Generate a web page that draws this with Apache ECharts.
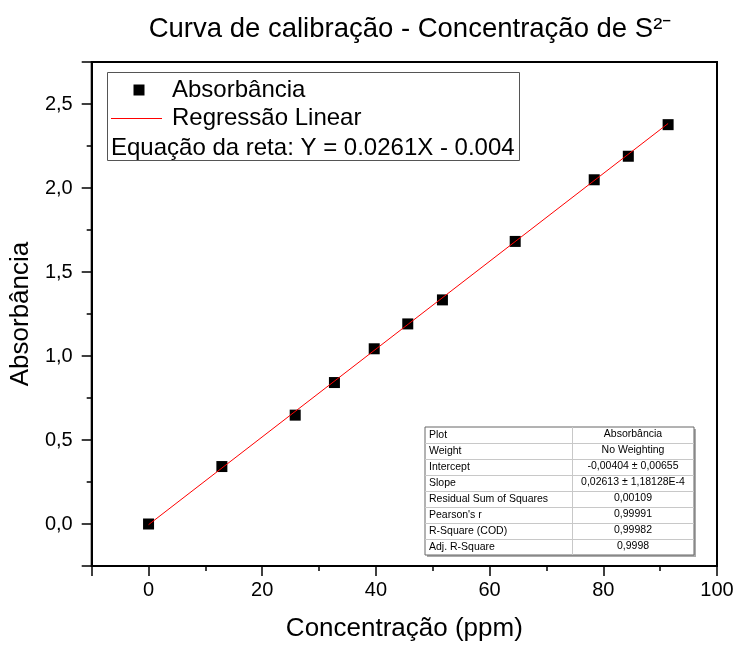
<!DOCTYPE html>
<html><head><meta charset="utf-8">
<script src="https://cdn.jsdelivr.net/npm/echarts@6/dist/echarts.min.js"></script>
<style>html,body{margin:0;padding:0;background:#fff}#c{width:738px;height:647px}</style>
</head><body><div id="c"></div>
<script>
// ---- data ----
const concentration = [0, 12.9, 25.8, 32.7, 39.7, 45.6, 51.7, 64.5, 78.4, 84.4, 91.4];
const absorbance = [0.0, 0.342, 0.648, 0.842, 1.043, 1.191, 1.334, 1.682, 2.049, 2.189, 2.377];
const fitX = [0, 91.4];
const fitY = [-0.004, 2.384];
const xTicks = [0, 20, 40, 60, 80, 100];
const yTicks = [0, 0.5, 1, 1.5, 2, 2.5];
const titleText = 'Curva de calibração - Concentração de S²⁻';
const xName = 'Concentração (ppm)';
const yName = 'Absorbância';
const legendScatter = 'Absorbância';
const legendLine = 'Regressão Linear';
const equationText = 'Equação da reta: Y = 0.0261X - 0.004';
const tableLabels = ['Plot', 'Weight', 'Intercept', 'Slope', 'Residual Sum of Squares', "Pearson's r", 'R-Square (COD)', 'Adj. R-Square'];
const tableValues = ['Absorbância', 'No Weighting', '-0,00404 ± 0,00655', '0,02613 ± 1,18128E-4', '0,00109', '0,99991', '0,99982', '0,9998'];

const FONT = '"Liberation Sans", Arial, Helvetica, sans-serif';
const chart = echarts.init(document.getElementById('c'), null, {renderer: 'canvas'});

const scatterData = concentration.map((x, i) => [x, absorbance[i]]);
const fitData = fitX.map((x, i) => [x, fitY[i]]);

// legend box and statistics table as graphic elements
const graphics = [];
// legend
graphics.push({type: 'rect', shape: {x: 107.5, y: 72.5, width: 412, height: 88}, style: {fill: '#fff', stroke: '#555', lineWidth: 1}, z: 100});
graphics.push({type: 'rect', shape: {x: 133.5, y: 84.5, width: 11, height: 11}, style: {fill: '#000'}, z: 101});
graphics.push({type: 'text', x: 172, y: 90, style: {text: legendScatter, fontSize: 24, fontFamily: FONT, fill: '#000', verticalAlign: 'middle', align: 'left'}, z: 101});
graphics.push({type: 'line', shape: {x1: 111, y1: 118.5, x2: 162, y2: 118.5}, style: {stroke: '#ff0000', lineWidth: 1}, z: 101});
graphics.push({type: 'text', x: 172, y: 118, style: {text: legendLine, fontSize: 24, fontFamily: FONT, fill: '#000', verticalAlign: 'middle', align: 'left'}, z: 101});
graphics.push({type: 'text', x: 111, y: 148, style: {text: equationText, fontSize: 24, fontFamily: FONT, fill: '#000', verticalAlign: 'middle', align: 'left'}, z: 101});

// table
const tL = 425, tR = 694, tD = 572, tT = 427, rowH = 16;
const tB = tT + rowH * tableLabels.length;
graphics.push({type: 'rect', shape: {x: tL + 2, y: tT + 2, width: tR - tL, height: tB - tT}, style: {fill: '#aaa'}, z: 100});
graphics.push({type: 'rect', shape: {x: tL, y: tT, width: tR - tL, height: tB - tT}, style: {fill: '#fff', stroke: '#666', lineWidth: 1}, z: 101});
for (let i = 1; i < tableLabels.length; i++) {
  graphics.push({type: 'line', shape: {x1: tL, y1: tT + i * rowH + 0.5, x2: tR, y2: tT + i * rowH + 0.5}, style: {stroke: '#c8c8c8', lineWidth: 1}, z: 102});
}
graphics.push({type: 'line', shape: {x1: tD + 0.5, y1: tT, x2: tD + 0.5, y2: tB}, style: {stroke: '#c8c8c8', lineWidth: 1}, z: 102});
tableLabels.forEach((lab, i) => {
  graphics.push({type: 'text', x: tL + 4, y: tT + i * rowH + rowH / 2 + 0.5, style: {text: lab, fontSize: 10.5, fontFamily: FONT, fill: '#000', verticalAlign: 'middle', align: 'left'}, z: 103});
  graphics.push({type: 'text', x: (tD + tR) / 2, y: tT + i * rowH + rowH / 2 - 1, style: {text: tableValues[i], fontSize: 10.5, fontFamily: FONT, fill: '#000', verticalAlign: 'middle', align: 'center'}, z: 103});
});

const option = {
  backgroundColor: '#fff',
  animation: false,
  title: {
    text: titleText,
    left: 405, top: 10, textAlign: 'center',
    textStyle: {fontFamily: FONT, fontSize: 27.5, fontWeight: 'normal', color: '#000'}
  },
  grid: {left: 88, right: 21, top: 62, bottom: 78, show: true, borderColor: '#000', borderWidth: 2, backgroundColor: 'transparent'},
  xAxis: [{
    type: 'value', min: -10, max: 100, splitNumber: 5, position: 'bottom',
    name: xName, nameLocation: 'middle', nameGap: 50,
    nameTextStyle: {fontFamily: FONT, fontSize: 26, color: '#000'},
    axisLine: {show: true, onZero: false, lineStyle: {color: '#000', width: 2}},
    axisTick: {show: true, inside: false, length: 10, lineStyle: {color: '#000', width: 1.5}},
    axisLabel: {margin: 14, fontFamily: FONT, fontSize: 20, color: '#000',
      formatter: v => xTicks.indexOf(v) >= 0 ? String(v) : ''},
    splitLine: {show: false}
  }, {
    type: 'value', min: -10, max: 100, interval: 10, position: 'bottom', offset: 0,
    axisLine: {show: false, onZero: false},
    axisTick: {show: true, inside: false, length: 5, lineStyle: {color: '#000', width: 1.5}},
    axisLabel: {show: false},
    splitLine: {show: false}
  }],
  yAxis: [{
    type: 'value', min: -0.25, max: 2.75, splitNumber: 6, position: 'left',
    name: yName, nameLocation: 'middle', nameGap: 47,
    nameTextStyle: {fontFamily: FONT, fontSize: 26, color: '#000'},
    axisLine: {show: true, onZero: false, lineStyle: {color: '#000', width: 2}},
    axisTick: {show: true, inside: false, length: 10, lineStyle: {color: '#000', width: 1.5}},
    axisLabel: {margin: 19, fontFamily: FONT, fontSize: 20, color: '#000',
      formatter: v => {
        const k = yTicks.findIndex(t => Math.abs(t - v) < 1e-9);
        return k >= 0 ? yTicks[k].toFixed(1).replace('.', ',') : '';
      }},
    splitLine: {show: false}
  }, {
    type: 'value', min: -0.25, max: 2.75, interval: 0.25, position: 'left', offset: 0,
    axisLine: {show: false, onZero: false},
    axisTick: {show: true, inside: false, length: 5, lineStyle: {color: '#000', width: 1.5}},
    axisLabel: {show: false},
    splitLine: {show: false}
  }],
  series: [{
    name: legendScatter, type: 'scatter', xAxisIndex: 0, yAxisIndex: 0,
    data: scatterData, symbol: 'rect', symbolSize: 11,
    itemStyle: {color: '#000', opacity: 1}, z: 3
  }, {
    name: legendLine, type: 'line', xAxisIndex: 0, yAxisIndex: 0,
    data: fitData, showSymbol: false, symbol: 'none',
    lineStyle: {color: '#ff0000', width: 1}, z: 4
  }],
  graphic: graphics
};
chart.setOption(option);
</script>
</body></html>
